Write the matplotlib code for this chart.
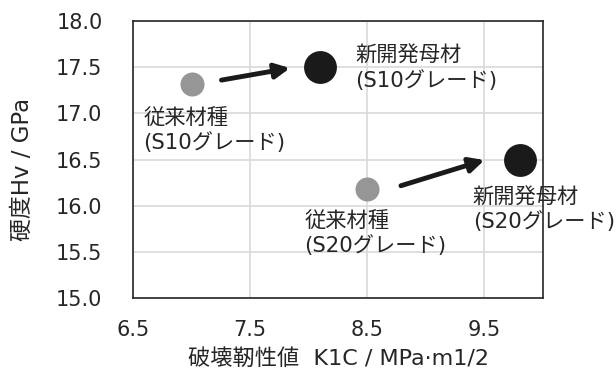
import matplotlib
matplotlib.use("Agg")
import matplotlib.pyplot as plt

plt.rcParams['font.family'] = ['DejaVu Sans', 'Noto Sans CJK JP']

# Data
conv_x = [7.0, 8.5]
conv_y = [17.32, 16.18]
new_x = [8.1, 9.8]
new_y = [17.5, 16.5]
conv_labels = ["従来材種\n(S10グレード)", "従来材種\n(S20グレード)"]
new_labels = ["新開発母材\n(S10グレード)", "新開発母材\n(S20グレード)"]
conv_label_pos = [(6.59, 17.06), (7.96, 15.94)]
new_label_pos = [(8.40, 17.73), (9.40, 16.20)]
arrows = [((7.255, 17.36), (7.84, 17.49)), ((8.787, 16.216), (9.50, 16.494))]
xticks = [6.5, 7.5, 8.5, 9.5]
yticks = [15.0, 15.5, 16.0, 16.5, 17.0, 17.5, 18.0]

fig = plt.figure(figsize=(6.16, 3.79), dpi=100)
ax = fig.add_axes([0.216, 0.2137, 0.6655, 0.7309])

txt = '#262626'
ax.scatter(conv_x, conv_y, s=300, color='#969696', zorder=3, linewidths=0)
ax.scatter(new_x, new_y, s=560, color='#1a1a1a', zorder=3, linewidths=0)

for (s, e) in arrows:
    ax.annotate('', xy=e, xytext=s,
                arrowprops=dict(arrowstyle='-|>', color='#1a1a1a', lw=3.5,
                                mutation_scale=22, shrinkA=0, shrinkB=0),
                zorder=4)

for lab, (x, y) in zip(conv_labels + new_labels, conv_label_pos + new_label_pos):
    ax.text(x, y, lab, ha='left', va='top', fontsize=15.3, color=txt,
            linespacing=1.25, zorder=5)

ax.set_xlim(6.5, 10.0)
ax.set_ylim(15.0, 18.0)
ax.set_xticks(xticks)
ax.set_yticks(yticks)
ax.set_xticklabels([f"{v:.1f}" for v in xticks])
ax.set_yticklabels([f"{v:.1f}" for v in yticks])
ax.tick_params(axis='both', length=0, labelsize=15, colors=txt)
ax.tick_params(axis='x', pad=16)
ax.tick_params(axis='y', pad=22)
ax.grid(True, color='#d9d9d9', lw=1.2)
ax.set_axisbelow(True)
for sp in ax.spines.values():
    sp.set_color('#262626')
    sp.set_linewidth(1.2)

ax.set_xlabel("破壊靭性値  K1C / MPa·m1/2", fontsize=16, color=txt)
ax.set_ylabel("硬度Hv / GPa", fontsize=16.5, color=txt)
ax.xaxis.set_label_coords(0.5, -0.2, transform=ax.transAxes)
ax.xaxis.label.set_va('center')
ax.yaxis.label.set_va('center')
fig.canvas.draw()
# place labels in figure pixel terms
ax.xaxis.set_label_coords(339 / 616, 1 - 359 / 379, transform=fig.transFigure)
ax.yaxis.set_label_coords(22 / 616, 1 - 169 / 379, transform=fig.transFigure)

fig.savefig("out.png", dpi=100)
